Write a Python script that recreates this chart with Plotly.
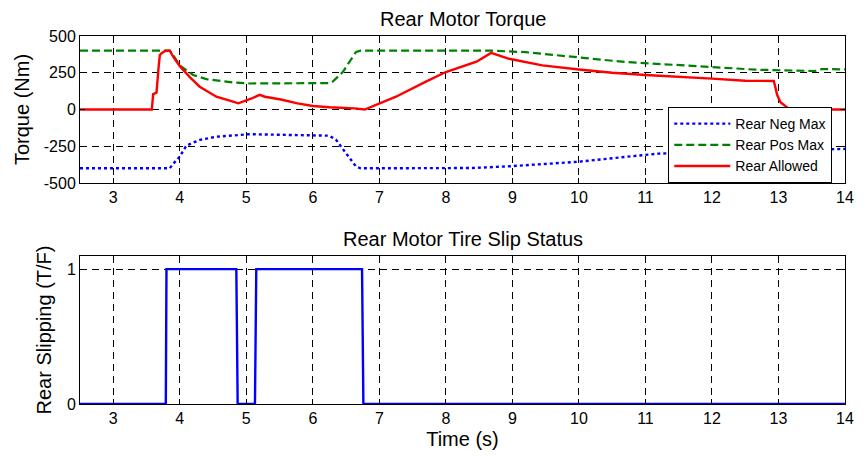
import plotly.graph_objects as go
from plotly.subplots import make_subplots

# Rear motor torque limits and allowed torque (Nm) over time (s)
t_neg = [2.5, 3.85, 3.9, 4.0, 4.1, 4.3, 4.55, 4.8, 5.05, 6.25, 6.35, 6.5, 6.65, 6.72,
         8.4, 9.0, 10.0, 10.7, 11.0, 11.2, 12.0, 13.0, 14.0]
neg_max = [-400, -400, -370, -320, -245, -207, -185, -174, -168, -178, -207, -298, -388, -400,
           -398, -385, -355, -322, -310, -300, -290, -278, -268]

t_pos = [2.5, 3.85, 3.9, 4.0, 4.2, 4.4, 4.8, 5.05, 6.25, 6.3, 6.45, 6.55, 6.65, 6.72,
         8.7, 9.2, 10.0, 10.7, 12.0, 12.65, 13.55, 13.65, 14.0]
pos_max = [400, 400, 370, 300, 235, 207, 184, 177, 180, 190, 255, 325, 392, 400,
           400, 390, 355, 323, 289, 271, 262, 275, 273]

t_allow = [2.5, 3.58, 3.6, 3.65, 3.68, 3.7, 3.73, 3.79, 3.85, 3.9, 4.0, 4.15, 4.3, 4.55,
           4.8, 4.88, 5.08, 5.2, 5.28, 5.52, 5.77, 6.0, 6.25, 6.63, 6.78, 7.0, 7.25,
           7.7, 8.0, 8.46, 8.68, 8.95, 9.45, 10.0, 10.5, 11.0, 11.57, 12.0, 12.5, 12.93,
           12.98, 13.03, 13.15, 13.2, 14.0]
allowed = [0, 0, 105, 115, 280, 370, 385, 400, 400, 360, 295, 220, 155, 87,
           53, 42, 75, 100, 87, 68, 42, 24, 15, 8, 0, 42, 87,
           190, 255, 325, 385, 345, 300, 272, 250, 235, 218, 210, 196, 194,
           100, 50, 8, 0, 0]

# Rear tire slip flag (1 = slipping)
t_slip = [2.5, 3.79, 3.8, 4.85, 4.87, 5.13, 5.15, 6.74, 6.76, 14.0]
slip = [0, 0, 1, 1, 0, 0, 1, 1, 0, 0]

x_ticks = [3, 4, 5, 6, 7, 8, 9, 10, 11, 12, 13, 14]
torque_ticks = [-500, -250, 0, 250, 500]
torque_labels = ["-500", "-250", "0", "250", "500"]
slip_ticks = [0, 1]

FONT = "Liberation Sans, Arial"

fig = make_subplots(rows=2, cols=1, vertical_spacing=0.2)

fig.add_trace(go.Scatter(x=t_neg, y=neg_max, mode="lines", name="Rear Neg Max",
                         line=dict(color="#0000ff", width=2.4, dash="dot")), row=1, col=1)
fig.add_trace(go.Scatter(x=t_pos, y=pos_max, mode="lines", name="Rear Pos Max",
                         line=dict(color="#008000", width=2.2, dash="8px,4px")), row=1, col=1)
fig.add_trace(go.Scatter(x=t_allow, y=allowed, mode="lines", name="Rear Allowed",
                         line=dict(color="#ff0000", width=2.4)), row=1, col=1)
fig.add_trace(go.Scatter(x=t_slip, y=slip, mode="lines", showlegend=False,
                         line=dict(color="#0000ff", width=2.4)), row=2, col=1)

axis_style = dict(showline=True, linecolor="black", linewidth=1, mirror="allticks",
                  ticks="inside", ticklen=5, tickcolor="black",
                  showgrid=True, gridcolor="black", gridwidth=0.8, griddash="7px,5px",
                  zeroline=False, tickfont=dict(family=FONT, size=16, color="black"))

fig.update_xaxes(range=[2.5, 14], tickvals=x_ticks, **axis_style)
fig.update_xaxes(title=dict(text="Time (s)", font=dict(size=20, color="black"), standoff=5),
                 row=2, col=1)

fig.update_yaxes(range=[-500, 500], tickvals=torque_ticks, ticktext=torque_labels,
                 title=dict(text="Torque (Nm)", font=dict(size=20, color="black"), standoff=8),
                 row=1, col=1, **axis_style)
fig.update_yaxes(range=[0, 1.097], tickvals=slip_ticks,
                 title=dict(text="Rear Slipping (T/F)", font=dict(size=20, color="black"), standoff=9),
                 row=2, col=1, **axis_style)

fig.update_layout(
    width=865, height=461,
    margin=dict(l=80, r=11, t=36, b=57),
    plot_bgcolor="white", paper_bgcolor="white",
    font=dict(family=FONT, color="black"),
    yaxis=dict(domain=[0.6005, 1.0]),
    yaxis2=dict(domain=[0.0, 0.402]),
    legend=dict(x=0.769, y=0.6005, xanchor="left", yanchor="bottom",
                bgcolor="white", bordercolor="black", borderwidth=1,
                font=dict(family=FONT, size=14, color="black"),
                tracegroupgap=0, itemwidth=56),
    annotations=[
        dict(text="Rear Motor Torque", x=0.5, y=1.0, xref="paper", yref="paper",
             xanchor="center", yanchor="bottom", yshift=4, showarrow=False,
             font=dict(family=FONT, size=20, color="black")),
        dict(text="Rear Motor Tire Slip Status", x=0.5, y=0.402, xref="paper", yref="paper",
             xanchor="center", yanchor="bottom", yshift=4, showarrow=False,
             font=dict(family=FONT, size=20, color="black")),
    ],
)

fig.write_html("out.html")
